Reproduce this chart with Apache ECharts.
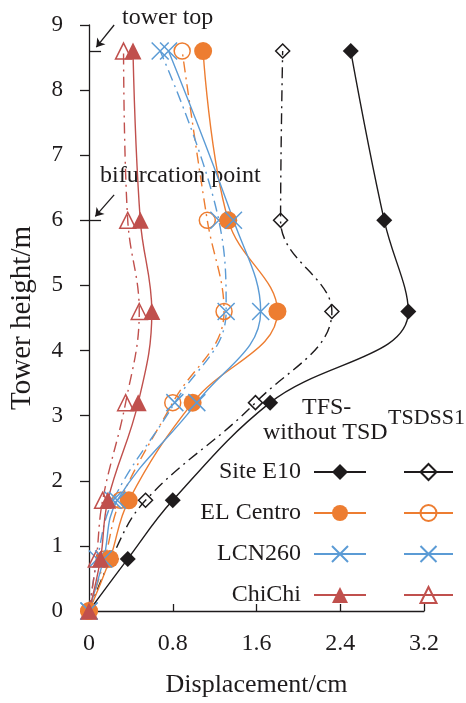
<!DOCTYPE html>
<html>
<head>
<meta charset="utf-8">
<script src="https://cdn.jsdelivr.net/npm/echarts@6/dist/echarts.min.js"></script>
<style>html,body{margin:0;padding:0;background:#fff;}#c{width:466px;height:703px;}</style>
</head>
<body>
<div id="c"></div>
<script>
// Heights (m) of the measured points
const heights = [0, 0.8, 1.7, 3.2, 4.6, 6.0, 8.6];
// Displacement (cm) – TFS-without TSD
const siteE10 = [0, 0.37, 0.80, 1.73, 3.05, 2.82, 2.50];
const elCentro = [0, 0.20, 0.38, 0.99, 1.80, 1.33, 1.09];
const lcn260 = [0, 0.14, 0.27, 1.03, 1.64, 1.38, 0.76];
const chiChi = [0, 0.11, 0.18, 0.47, 0.60, 0.49, 0.42];
// Displacement (cm) – TSDSS1
const siteE10T = [0, 0.21, 0.54, 1.59, 2.32, 1.83, 1.85];
const elCentroT = [0, 0.15, 0.30, 0.80, 1.29, 1.13, 0.89];
const lcn260T = [0, 0.08, 0.23, 0.82, 1.31, 1.24, 0.68];
const chiChiT = [0, 0.07, 0.13, 0.35, 0.48, 0.37, 0.33];

const xTicks = [0, 0.8, 1.6, 2.4, 3.2];
const waveNames = ['Site E10', 'EL Centro', 'LCN260', 'ChiChi'];

const FONT = "'Liberation Serif', 'Times New Roman', serif";
const TXT = '#1e1b1c';
const colors = ['#1e1b1c', '#ED7D31', '#5B9BD5', '#C0504D'];
const X_PATH = 'path://M0,0L10,10M10,0L0,10';

function pairs(xs) { return xs.map((v, i) => [v, heights[i]]); }

const solidSets = [siteE10, elCentro, lcn260, chiChi];
const tsdSets = [siteE10T, elCentroT, lcn260T, chiChiT];
const solidSym = ['diamond', 'circle', X_PATH, 'triangle'];
const solidSize = [16, 18, 17, 17];
const tsdSym = ['diamond', 'circle', X_PATH, 'triangle'];
const tsdSize = [14, 16, 17, 16];

const series = [];
solidSets.forEach((d, i) => {
  const isX = i === 2;
  series.push({
    name: waveNames[i],
    type: 'line',
    data: pairs(d),
    smooth: 0.4,
    symbol: solidSym[i],
    symbolSize: solidSize[i],
    showAllSymbol: true,
    lineStyle: { color: colors[i], width: 1.4, type: 'solid' },
    itemStyle: isX ? { color: colors[i], borderColor: colors[i], borderWidth: 1.5 } : { color: colors[i], borderWidth: 0 },
    emphasis: { disabled: true },
    z: 3
  });
});
tsdSets.forEach((d, i) => {
  const isX = i === 2;
  series.push({
    name: waveNames[i] + ' TSDSS1',
    type: 'line',
    data: pairs(d),
    smooth: 0.4,
    symbol: tsdSym[i],
    symbolSize: tsdSize[i],
    showAllSymbol: true,
    lineStyle: { color: colors[i], width: 1.4, type: [11, 5, 2, 5] },
    itemStyle: isX ? { color: colors[i], borderColor: colors[i], borderWidth: 1.5 }
                   : { color: 'rgba(255,255,255,0)', borderColor: colors[i], borderWidth: 1.5 },
    emphasis: { disabled: true },
    z: 2
  });
});

// annotation marks tied to data coordinates
series.push({
  name: 'annot',
  type: 'line',
  data: [],
  silent: true,
  markLine: {
    silent: true,
    animation: false,
    label: { show: false },
    lineStyle: { color: TXT, width: 1.3, type: 'solid' },
    data: [
      [{ coord: [0, 8.6], symbol: 'none' }, { coord: [0.115, 8.6], symbol: 'none' }],
      [{ coord: [0, 6.0], symbol: 'none' }, { coord: [0.115, 6.0], symbol: 'none' }],
      [{ coord: [0.24, 9.0], symbol: 'none' }, { coord: [0.07, 8.66], symbol: 'arrow', symbolSize: 8 }],
      [{ coord: [0.24, 6.39], symbol: 'none' }, { coord: [0.06, 6.06], symbol: 'arrow', symbolSize: 8 }]
    ]
  }
});

const chart = echarts.init(document.getElementById('c'), null, { renderer: 'canvas' });
chart.setOption({
  animation: false,
  backgroundColor: '#fff',
  textStyle: { fontFamily: FONT, color: TXT },
  grid: { left: 88, right: 42, top: 25, bottom: 87, containLabel: false },
  xAxis: {
    type: 'value',
    min: xTicks[0], max: xTicks[xTicks.length - 1], interval: 0.8,
    name: 'Displacement/cm',
    nameLocation: 'middle',
    nameGap: 61,
    nameTextStyle: { fontFamily: FONT, fontSize: 26, color: TXT },
    axisLine: { show: true, onZero: false, lineStyle: { color: TXT, width: 1.3 } },
    axisTick: { show: true, inside: true, length: 7, lineStyle: { color: TXT, width: 1.3 } },
    axisLabel: { fontFamily: FONT, fontSize: 24, color: TXT, margin: 21 },
    splitLine: { show: false }
  },
  yAxis: {
    type: 'value',
    min: 0, max: 9, interval: 1,
    name: 'Tower height/m',
    nameLocation: 'middle',
    nameGap: 52,
    nameTextStyle: { fontFamily: FONT, fontSize: 29, color: TXT },
    axisLine: { show: true, onZero: false, lineStyle: { color: TXT, width: 1.3 } },
    axisTick: { show: true, inside: false, length: 9, lineStyle: { color: TXT, width: 1.3 } },
    axisLabel: { fontFamily: FONT, fontSize: 23, color: TXT, margin: 26 },
    splitLine: { show: false }
  },
  legend: [
    {
      data: waveNames,
      orient: 'vertical',
      align: 'right',
      right: 94,
      top: 455,
      itemWidth: 52,
      itemHeight: 20,
      itemGap: 17,
      selectedMode: false,
      textStyle: { fontFamily: FONT, fontSize: 24, color: TXT, padding: [0, 8, 0, 0] },
      lineStyle: { type: 'solid' }
    },
    {
      data: waveNames.map(n => n + ' TSDSS1'),
      orient: 'vertical',
      align: 'left',
      left: 398,
      top: 455,
      itemWidth: 49,
      itemHeight: 20,
      itemGap: 17,
      selectedMode: false,
      formatter: () => ' ',
      textStyle: { fontFamily: FONT, fontSize: 24, color: TXT },
      lineStyle: { type: 'solid' }
    }
  ],
  graphic: [
    { type: 'text', left: 122, top: 6, style: { text: 'tower top', font: '24px ' + FONT, fill: TXT } },
    { type: 'text', left: 100, top: 164, style: { text: 'bifurcation point', font: '24px ' + FONT, fill: TXT } },
    { type: 'text', left: 302, top: 396, style: { text: 'TFS-', font: '24px ' + FONT, fill: TXT } },
    { type: 'text', left: 263, top: 421, style: { text: 'without TSD', font: '24px ' + FONT, fill: TXT } },
    { type: 'text', left: 388, top: 407, style: { text: 'TSDSS1', font: '22px ' + FONT, fill: TXT } }
  ],
  series: series
});
</script>
</body>
</html>
